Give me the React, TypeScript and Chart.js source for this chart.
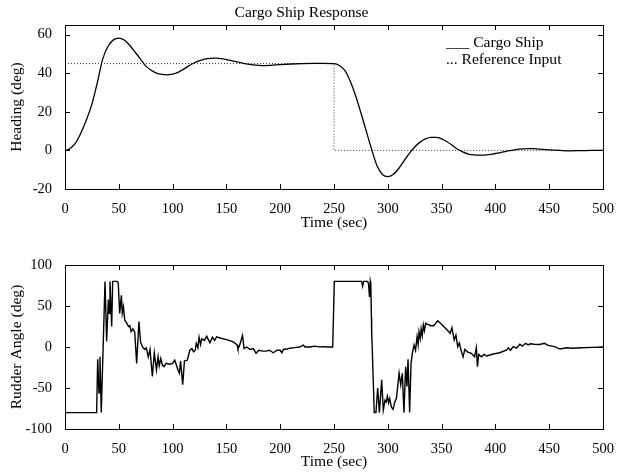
import React, { useEffect, useRef } from "react";
import { Chart, registerables } from "chart.js";
Chart.register(...registerables);

const FONT = "'Liberation Serif', 'Times New Roman', serif";

const xTicks = [0, 50, 100, 150, 200, 250, 300, 350, 400, 450, 500];
const headingTicks = [-20, 0, 20, 40, 60];
const rudderTicks = [-100, -50, 0, 50, 100];

const headingT = [0, 2.5, 5, 7.5, 10, 15, 20, 25, 30, 35, 40, 45, 50, 55, 60, 65, 70, 75, 80, 85, 90, 95, 100, 105, 110, 115, 120, 125, 130, 135, 140, 145, 150, 155, 160, 165, 170, 175, 180, 185, 190, 195, 200, 210, 220, 230, 240, 250, 255, 260, 265, 270, 275, 280, 285, 290, 295, 300, 305, 310, 315, 320, 325, 330, 335, 340, 345, 350, 355, 360, 365, 370, 375, 380, 385, 390, 395, 400, 405, 410, 415, 420, 425, 430, 435, 440, 445, 450, 460, 470, 480, 490, 500];
const headingV = [0, 0.3, 1.1, 2.4, 4, 9.3, 16, 24, 35, 47.3, 54, 57.3, 58.2, 57.2, 54.5, 51, 47.5, 43.8, 41.6, 40.1, 39.4, 39.2, 39.6, 40.5, 42, 43.8, 45.3, 46.5, 47.3, 47.7, 47.8, 47.6, 47.1, 46.5, 45.9, 45.2, 44.7, 44.3, 44.1, 44.0, 44.1, 44.3, 44.5, 44.8, 45, 45.1, 45.1, 45, 44, 41.5, 36, 28.5, 19.5, 10, 0.5, -8, -12.5, -13.6, -12.5, -9.5, -5.5, -1.5, 1.8, 4.3, 6, 6.8, 6.8, 6, 4.5, 2.6, 0.6, -0.9, -1.9, -2.3, -2.4, -2.4, -2.1, -1.6, -1.1, -0.5, 0, 0.5, 0.8, 0.9, 0.9, 0.7, 0.5, 0.3, 0, -0.2, -0.1, 0, 0];

const refT = [0, 250, 250, 500];
const refV = [45, 45, 0, 0];

const rudderT = [0, 29.4, 30.4, 31.6, 32.5, 33.7, 37.2, 38.7, 40.3, 40.9, 41.8, 43.4, 44.3, 46, 48.5, 49.5, 50.8, 52.4, 53.2, 54.3, 55.5, 57.4, 59, 60.2, 61.5, 63, 64.8, 66.6, 68.7, 70.2, 72, 74, 75.5, 77.4, 79, 81.2, 83, 85, 86.5, 87.6, 89, 90.5, 92, 94, 97, 100, 102, 105, 106.3, 107.4, 109.4, 111, 113.7, 116, 118, 119.5, 121, 122, 123.5, 124.6, 126, 127, 129.5, 131.7, 134.7, 137, 139, 141, 144, 150, 156, 160, 160.7, 162, 165, 166.4, 169, 172, 175, 177.6, 180, 184, 187, 190, 193.6, 197, 200, 201.5, 203, 206, 209, 212, 215, 218, 221.5, 223, 228, 232, 236, 240, 244, 248.8, 250.3, 275.6, 276.6, 277.6, 281, 282, 283, 283.7, 284.2, 284.8, 285, 285.4, 287.4, 289, 290.6, 292.2, 294.3, 295.8, 297.4, 298.5, 299.6, 300.8, 301.8, 303.3, 304.9, 306.5, 308, 310.5, 312, 313.5, 315, 316.6, 317.8, 318.8, 320.3, 321.6, 322.8, 324.4, 325.8, 327.2, 328.2, 329, 330.2, 331, 332, 333, 334, 335.2, 336.5, 340, 342.7, 346.4, 350.4, 355, 358, 359.6, 361.7, 363.3, 365, 366.5, 368, 370, 371.6, 374, 377.6, 380.7, 382.3, 383.3, 384.5, 387, 389.5, 392, 398, 404, 410.5, 412, 414, 416.6, 419.7, 422.7, 425, 428, 430.5, 432.5, 436, 441, 445.7, 449, 455, 460, 466, 472, 480, 490, 500];
const rudderV = [-80, -80, -15, -56, -12, -80, 80, 7, 58, 41, 80, 25, 80, 80, 80, 78, 41, 63, 41, 49, 33, 29, 25, 26, 18.7, 22, 18, -20, 31, 6.5, 0, -3, -1, -12, -3, -36, -7, -28, -12, -23, -14, -22, -24, -20, -21, -20, -16, -28, -32, -17, -46, -17, -16, -4, -2, -6, -4, 4.5, -1, 12, 3, 10, 8, 13, 5, 12, 8, 12.5, 11, 9, 6.5, 2.5, -2, 1, 14, -2, 0, -3, -2, -7.7, -4, -5, -5, -4, -7, -4, -4, -7, -3, -2.5, -1.5, -1, -0.5, 0, 2.4, 0, 0, 1, 0.2, 0.5, 0, 0, 80, 80, 74, 80, 80, 78, 61, 80, 76, 35, 17, 4, -80, -80, -50, -80, -40, -77, -65, -67, -60, -68, -63, -73, -76, -67, -62.6, -32, -46, -32, -80, -24, -48, -15, -80, -20, -7.7, 2.4, -4, 12.6, 3, 18.7, 10, 22, 14, 27, 20, 29, 28, 26, 26, 32, 27, 21, 16.7, 23.6, 8.5, 14.6, 0.4, 5, -3.6, -12, -3, -6, -7.7, -12, -1, -24, -9, -12, -9, -11, -8.5, -7, -3.6, -1, -4, 0.5, -1.5, 3.3, 1, 4.5, 2.5, 4, 3.3, 3, 4.5, 2, 0.4, -2.5, -1, -1.5, -1, -0.5, 0];

const boxPlugin = {
  id: "matlabBox",
  afterDatasetsDraw(chart: any) {
    const { ctx, chartArea: a, scales } = chart;
    const L = 5;
    ctx.save();
    ctx.strokeStyle = "#000";
    ctx.lineWidth = 1;
    ctx.beginPath();
    scales.x.ticks.forEach((t: any) => {
      const px = Math.round(scales.x.getPixelForValue(t.value)) + 0.5;
      ctx.moveTo(px, a.bottom);
      ctx.lineTo(px, a.bottom - L);
      ctx.moveTo(px, a.top);
      ctx.lineTo(px, a.top + L);
    });
    scales.y.ticks.forEach((t: any) => {
      const py = Math.round(scales.y.getPixelForValue(t.value)) + 0.5;
      ctx.moveTo(a.left, py);
      ctx.lineTo(a.left + L, py);
      ctx.moveTo(a.right, py);
      ctx.lineTo(a.right - L, py);
    });
    ctx.stroke();
    ctx.strokeRect(Math.round(a.left) + 0.5, Math.round(a.top) + 0.5, Math.round(a.right - a.left), Math.round(a.bottom - a.top));
    ctx.restore();
  },
};

const legendPlugin = {
  id: "legendText",
  afterDraw(chart: any) {
    const { ctx, scales } = chart;
    ctx.save();
    ctx.fillStyle = "#000";
    ctx.font = `15.6px ${FONT}`;
    ctx.textBaseline = "middle";
    ctx.textAlign = "left";
    const x = scales.x.getPixelForValue(354);
    ctx.fillText("___ Cargo Ship", x, scales.y.getPixelForValue(55.6));
    ctx.fillText("... Reference Input", x, scales.y.getPixelForValue(46.8));
    ctx.restore();
  },
};

function pts(t: number[], v: number[]) {
  return t.map((x, i) => ({ x, y: v[i] }));
}

function makeScales(yMin: number, yMax: number, yTicks: number[], yTitle: string, xHeight: number, xTitlePad: number) {
  const tickFont = { family: FONT, size: 14.5 };
  const titleFont = { family: FONT, size: 15.6 };
  return {
    x: {
      type: "linear",
      min: 0,
      max: 500,
      bounds: "data",
      afterBuildTicks: (s: any) => {
        s.ticks = xTicks.map((v) => ({ value: v }));
      },
      afterFit: (s: any) => {
        s.height = xHeight;
      },
      grid: { display: false },
      border: { display: false },
      ticks: { color: "#000", font: tickFont, padding: 3, maxRotation: 0, autoSkip: false },
      title: { display: true, text: "Time (sec)", color: "#000", font: titleFont, padding: { top: 0, bottom: xTitlePad } },
    },
    y: {
      type: "linear",
      min: yMin,
      max: yMax,
      bounds: "data",
      afterBuildTicks: (s: any) => {
        s.ticks = yTicks.map((v) => ({ value: v }));
      },
      afterFit: (s: any) => {
        s.width = 65;
      },
      grid: { display: false },
      border: { display: false },
      ticks: { color: "#000", font: tickFont, padding: 5, autoSkip: false },
      title: { display: true, text: yTitle, color: "#000", font: titleFont, padding: { top: 8, bottom: 0 } },
    },
  };
}

export default function App() {
  const topRef = useRef<HTMLCanvasElement>(null);
  const botRef = useRef<HTMLCanvasElement>(null);

  useEffect(() => {
    document.body.style.margin = "0";
    document.body.style.overflow = "hidden";
    const top = new Chart(topRef.current as HTMLCanvasElement, {
      type: "line",
      data: {
        datasets: [
          {
            label: "Cargo Ship",
            data: pts(headingT, headingV),
            borderColor: "#000",
            borderWidth: 1.3,
            pointRadius: 0,
            cubicInterpolationMode: "monotone",
            fill: false,
          },
          {
            label: "Reference Input",
            data: pts(refT, refV),
            borderColor: "#333",
            borderWidth: 1,
            borderDash: [1, 2],
            pointRadius: 0,
            tension: 0,
            fill: false,
          },
        ],
      },
      options: {
        animation: false,
        responsive: false,
        devicePixelRatio: 1,
        layout: { padding: { left: 0, right: 15, top: 0, bottom: 0 } },
        plugins: {
          legend: { display: false },
          tooltip: { enabled: false },
          title: {
            display: true,
            text: "Cargo Ship Response",
            color: "#000",
            font: { family: FONT, size: 15.6, weight: "normal", lineHeight: 1.2 },
            padding: { top: 4, bottom: 2.3 },
          },
        },
        scales: makeScales(-20, 65, headingTicks, "Heading (deg)", 51, 8) as any,
      },
      plugins: [boxPlugin, legendPlugin],
    } as any);

    const bot = new Chart(botRef.current as HTMLCanvasElement, {
      type: "line",
      data: {
        datasets: [
          {
            label: "Rudder Angle",
            data: pts(rudderT, rudderV),
            borderColor: "#000",
            borderWidth: 1.4,
            pointRadius: 0,
            tension: 0,
            fill: false,
          },
        ],
      },
      options: {
        animation: false,
        responsive: false,
        devicePixelRatio: 1,
        layout: { padding: { left: 0, right: 15, top: 25, bottom: 0 } },
        plugins: {
          legend: { display: false },
          tooltip: { enabled: false },
        },
        scales: makeScales(-100, 100, rudderTicks, "Rudder Angle (deg)", 44, 2) as any,
      },
      plugins: [boxPlugin],
    } as any);

    return () => {
      top.destroy();
      bot.destroy();
    };
  }, []);

  return (
    <div style={{ position: "relative", width: 618, height: 473, background: "#fff", overflow: "hidden" }}>
      <canvas ref={topRef} width={618} height={240} style={{ position: "absolute", left: 0, top: 0, display: "block" }} />
      <canvas ref={botRef} width={618} height={233} style={{ position: "absolute", left: 0, top: 240, display: "block" }} />
    </div>
  );
}
